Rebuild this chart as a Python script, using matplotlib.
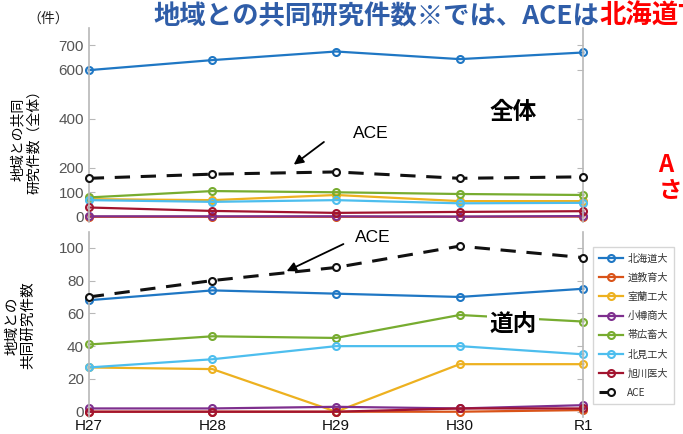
import matplotlib
matplotlib.use("Agg")
import matplotlib.pyplot as plt

plt.rcParams['font.family'] = ['Noto Sans CJK JP', 'DejaVu Sans']

years = ["H27", "H28", "H29", "H30", "R1"]
univs = ["北海道大", "道教育大", "室蘭工大", "小樽商大", "帯広畜大", "北見工大", "旭川医大"]
colors = ["#1f77c4", "#D95319", "#EDB120", "#7E2F8E", "#77AC30", "#4DBEEE", "#A2142F"]

# 全体
total = {
    "北海道大": [598, 639, 674, 643, 670],
    "道教育大": [0, 0, 0, 0, 1],
    "室蘭工大": [72, 68, 89, 64, 64],
    "小樽商大": [2, 2, 2, 1, 3],
    "帯広畜大": [79, 105, 100, 93, 89],
    "北見工大": [68, 61, 68, 55, 57],
    "旭川医大": [38, 24, 16, 20, 23],
}
ace_total = [157, 174, 183, 157, 163]

# 道内
local = {
    "北海道大": [68, 74, 72, 70, 75],
    "道教育大": [0, 0, 0, 0, 1],
    "室蘭工大": [27, 26, 0, 29, 29],
    "小樽商大": [2, 2, 3, 2, 4],
    "帯広畜大": [41, 46, 45, 59, 55],
    "北見工大": [27, 32, 40, 40, 35],
    "旭川医大": [0, 0, 0, 2, 2],
}
ace_local = [70, 80, 88, 101, 94]

top_ticks = [0, 100, 200, 400, 600, 700]
bot_ticks = [0, 20, 40, 60, 80, 100]

fig = plt.figure(figsize=(6.83, 4.34), dpi=100)
ax1 = fig.add_axes([0.130, 0.488, 0.724, 0.447])
ax2 = fig.add_axes([0.130, 0.040, 0.724, 0.425])

x = list(range(len(years)))
spine_col = "#b8b8b8"
tick_col = "#555555"


def style(ax):
    for s in ["top", "bottom"]:
        ax.spines[s].set_visible(False)
    for s in ["left", "right"]:
        ax.spines[s].set_color(spine_col)
        ax.spines[s].set_linewidth(1.2)
    ax.tick_params(axis="y", direction="in", left=True, right=True,
                   color=spine_col, labelcolor=tick_col, labelsize=11, length=4)
    ax.set_xlim(0, 4)
    for lab in ax.get_yticklabels():
        lab.set_family(["Liberation Sans", "DejaVu Sans"])


handles = []
for ax, data, ace in [(ax1, total, ace_total), (ax2, local, ace_local)]:
    for u, c in zip(univs, colors):
        h, = ax.plot(x, data[u], color=c, lw=1.6, marker="o", ms=5,
                     mfc="none", mew=1.5, clip_on=False, label=u)
        if ax is ax2:
            handles.append(h)
    h, = ax.plot(x, ace, color="#111111", lw=2.2, ls=(0, (5, 3.5)), marker="o",
                 ms=5, mfc="white", mew=1.5, clip_on=False, label="ACE", zorder=5)
    if ax is ax2:
        handles.append(h)

ax1.set_ylim(-22, 769)
ax1.set_yticks(top_ticks)
ax1.set_xticks([])
ax2.set_ylim(-3, 109.5)
ax2.set_yticks(bot_ticks)
ax2.set_xticks(x)
ax2.set_xticklabels(years)
style(ax1)
style(ax2)
ax2.tick_params(axis="x", length=0, labelsize=11, pad=2, labelcolor="#111111")
for lab in ax2.get_xticklabels():
    lab.set_family(["Liberation Sans", "DejaVu Sans"])

# labels
fig.text(0.038, 0.68, "地域との共同\n研究件数（全体）", rotation=90, ha="center",
         va="center", fontsize=10, linespacing=1.15)
fig.text(0.030, 0.25, "地域との\n共同研究件数", rotation=90, ha="center",
         va="center", fontsize=10.5, linespacing=1.1)
fig.text(0.070, 0.958, "（件）", ha="center", va="center", fontsize=10, color="#222222")

# title (cut off at the right edge as in the source)
t1 = fig.text(0.225, 0.962, "地域との共同研究件数※では、ACEは", ha="left", va="center",
              fontsize=19, fontweight="bold", color="#2F5DA8")
fig.canvas.draw()
bb = t1.get_window_extent()
fig.text(bb.x1 / fig.bbox.width, 0.962, "北海道T", ha="left", va="center",
         fontsize=19, fontweight="bold", color="#FF0000")

# red cut-off text on the right
fig.text(0.964, 0.62, "A", ha="left", va="center", fontsize=17, fontweight="bold", color="#FF0000")
fig.text(0.964, 0.56, "さ", ha="left", va="center", fontsize=17, fontweight="bold", color="#FF0000")

# annotations
ax1.text(3.43, 427, "全体", ha="center", va="center", fontsize=17, fontweight="bold")
ax1.text(2.28, 341, "ACE", ha="center", va="center", fontsize=12.5,
         family=["Liberation Sans", "DejaVu Sans"])
ax1.annotate("", xy=(1.64, 206), xytext=(1.92, 312),
             arrowprops=dict(arrowstyle="-|>", color="black", lw=1.3, mutation_scale=14))
ax2.text(3.43, 53, "道内", ha="center", va="center", fontsize=17, fontweight="bold",
         bbox=dict(facecolor="white", edgecolor="none", pad=1.5), zorder=6)
ax2.text(2.30, 106.5, "ACE", ha="center", va="center", fontsize=12.5,
         family=["Liberation Sans", "DejaVu Sans"])
ax2.annotate("", xy=(1.58, 85), xytext=(2.08, 103),
             arrowprops=dict(arrowstyle="-|>", color="black", lw=1.3, mutation_scale=14))

leg = fig.legend(handles=handles, loc="upper left", bbox_to_anchor=(0.868, 0.43),
                 fontsize=7.3, frameon=True, fancybox=False, edgecolor="#cccccc",
                 labelspacing=0.9, handlelength=2.4, handletextpad=0.4,
                 borderpad=0.6, borderaxespad=0)
for t in leg.get_texts():
    t.set_color("#333333")

fig.savefig("out.png", dpi=100)
